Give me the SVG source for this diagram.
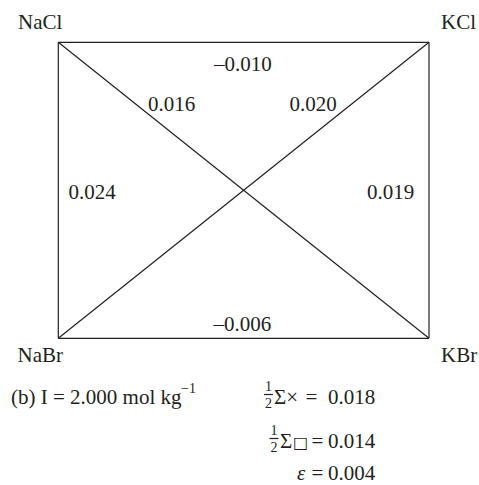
<svg xmlns="http://www.w3.org/2000/svg" width="479" height="485" viewBox="0 0 479 485">
  <style>
    .t { font-family: "Liberation Serif", "Times New Roman", serif; font-size: 21px; fill: #231f20; }
    .s { font-family: "Liberation Serif", "Times New Roman", serif; font-size: 14px; fill: #231f20; }
    .ln { stroke: #231f20; stroke-width: 1.2; fill: none; }
  </style>
  <rect x="0" y="0" width="479" height="485" fill="#ffffff"/>
  <g id="connectors">
    <line class="ln" x1="58.3" y1="42.3" x2="429" y2="42.3"/>
    <line class="ln" x1="58.3" y1="338.3" x2="429" y2="338.3"/>
    <line class="ln" x1="58.3" y1="42.3" x2="58.3" y2="338.3"/>
    <line class="ln" x1="429" y1="42.3" x2="429" y2="338.3"/>
    <line class="ln" x1="58.3" y1="42.3" x2="429" y2="338.3"/>
    <line class="ln" x1="429" y1="42.3" x2="58.3" y2="338.3"/>
  </g>
  <g id="edge-labels">
    <text class="t" x="214" y="71">–0.010</text>
    <text class="t" x="148" y="111">0.016</text>
    <text class="t" x="289.5" y="111">0.020</text>
    <text class="t" x="68.5" y="198.5">0.024</text>
    <text class="t" x="367" y="198.5">0.019</text>
    <text class="t" x="213.5" y="331">–0.006</text>
  </g>
  <g id="node-NaCl"><text class="t" x="18" y="29">NaCl</text></g>
  <g id="node-KCl"><text class="t" x="441" y="29">KCl</text></g>
  <g id="node-NaBr"><text class="t" x="17.5" y="362">NaBr</text></g>
  <g id="node-KBr"><text class="t" x="441" y="362">KBr</text></g>
  <g id="caption">
    <text class="t" x="11" y="404">(b) I = 2.000 mol kg</text>
    <text class="t" x="181" y="392.5" style="font-size:14px">−1</text>
  </g>
  <g id="eq1">
    <text class="s" x="268.5" y="391" text-anchor="middle">1</text>
    <line class="ln" x1="264" y1="394.5" x2="273" y2="394.5" stroke-width="0.8"/>
    <text class="s" x="268.5" y="408" text-anchor="middle">2</text>
    <text class="t" x="274" y="404">Σ×</text>
    <text class="t" x="305.5" y="404">=</text>
    <text class="t" x="328" y="404">0.018</text>
  </g>
  <g id="eq2">
    <text class="s" x="274" y="435" text-anchor="middle">1</text>
    <line class="ln" x1="269.5" y1="438.5" x2="278.5" y2="438.5" stroke-width="0.8"/>
    <text class="s" x="274" y="452" text-anchor="middle">2</text>
    <text class="t" x="280" y="448">Σ</text>
    <text x="293" y="448" style="font-family:'DejaVu Sans',sans-serif;font-size:16px;fill:#231f20">□</text>
    <text class="t" x="311.5" y="448">=</text>
    <text class="t" x="328" y="448">0.014</text>
  </g>
  <g id="eq3">
    <text class="t" x="297" y="480" font-style="italic">ε</text>
    <text class="t" x="311.5" y="480">=</text>
    <text class="t" x="328" y="480">0.004</text>
  </g>
</svg>
